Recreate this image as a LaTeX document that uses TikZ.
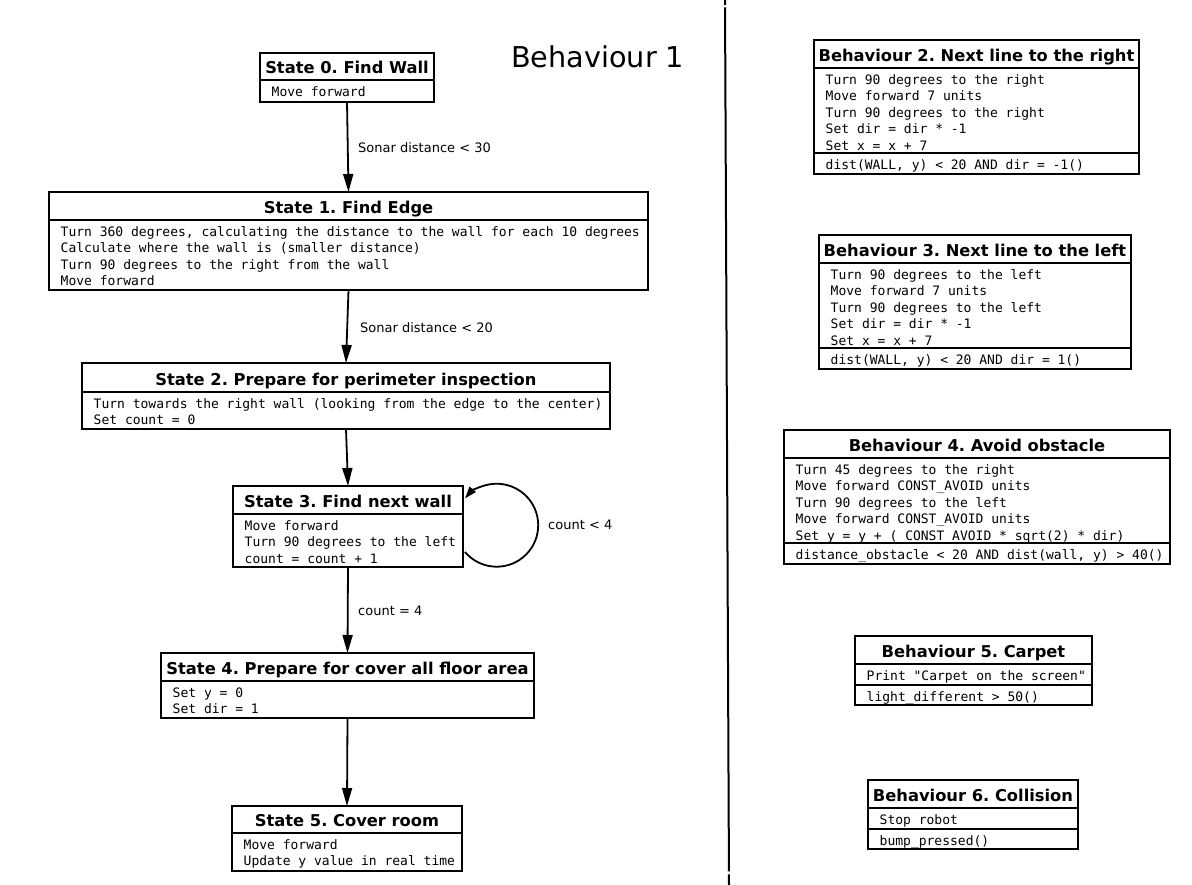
\documentclass[tikz,border=0pt]{standalone}
\usepackage{fontspec}
\setmainfont{DejaVu Sans}
\newfontfamily\monof{DejaVu Sans Mono}
\usetikzlibrary{arrows.meta}
\tikzset{
 boxline/.style={draw=black, line width=1.8pt, inner sep=0pt, outer sep=0pt, fill=white},
 divline/.style={line width=1.8pt},
 ttl/.style={font=\fontsize{16.3}{19}\selectfont\bfseries\frenchspacing, inner sep=0pt, anchor=base},
 bodytxt/.style={font=\monof\fontsize{13}{16.35}\selectfont, inner sep=0pt, anchor=north west, align=left},
 lbl/.style={font=\fontsize{13}{16}\selectfont, inner sep=0pt, anchor=base west},
 arr/.style={line width=1.8pt, -{Triangle[length=18pt,width=10pt]}},
 looparr/.style={line width=1.8pt, -{Triangle[length=12pt,width=8pt]}},
}
\newcommand\umlbox[8]{%
 \node[boxline, anchor=north west, minimum width={#4pt-#2pt}, minimum height={#5pt-#3pt}] (#1) at (#2,#3) {};
 \draw[divline] (#2,#6) -- (#4,#6);
 \node[ttl] (#1-t) at ({(#2+#4)/2},{#6-6.8}) {#7};
 \node[bodytxt] (#1-b) at ({#2+11.5},{#6+5}) {\strut #8};
}
\newcommand\condrow[5]{%
 \draw[divline] (#2,#4) -- (#3,#4);
 \node[bodytxt] (#1) at ({#2+11.5},{#4+5}) {\strut #5};
}
\begin{document}
\begin{tikzpicture}[x=1pt,y=-1pt]
\fill[white] (0,0) rectangle (1192,885);
\useasboundingbox (0,0) rectangle (1192,885);

\node[font=\fontsize{28.7}{34}\selectfont, inner sep=0pt, anchor=base west] (b1) at (511,68) {Behaviour 1};

\draw[line width=2pt, dash pattern=on 5pt off 2.5pt on 864pt off 3pt on 30pt] (725,0) -- (729,885);

\umlbox{s0}{260}{53}{434}{102}{80}{State 0. Find Wall}{Move forward}
\umlbox{s1}{49}{192}{648}{290}{220}{State 1. Find Edge}{Turn 360 degrees, calculating the distance to the wall for each 10 degrees\\Calculate where the wall is (smaller distance)\\Turn 90 degrees to the right from the wall\\Move forward}
\umlbox{s2}{82}{363}{610}{429}{392}{State 2. Prepare for perimeter inspection}{Turn towards the right wall (looking from the edge to the center)\\Set count = 0}
\umlbox{s3}{233}{486}{463}{567}{514}{State 3. Find next wall}{Move forward\\Turn 90 degrees to the left\\count = count + 1}
\umlbox{s4}{161}{653}{534}{718}{681}{State 4. Prepare for cover all floor area}{Set y = 0\\Set dir = 1}
\umlbox{s5}{232}{806}{462}{871}{833}{State 5. Cover room}{Move forward\\Update y value in real time}

\draw[arr] (s0.south) -- (s1.north);
\draw[arr] (s1.south) -- (s2.north);
\draw[arr] (s2.south) -- (s3.north);
\draw[arr] (s3.south) -- (s4.north);
\draw[arr] (s4.south) -- (s5.north);
\draw[looparr] (s3.south east) ++(2,-15) arc[start angle=139.8, end angle=-139.8, radius=41.5];

\node[lbl] (l1) at (358,152.7) {Sonar distance < 30};
\node[lbl] (l2) at (360,332.7) {Sonar distance < 20};
\node[lbl] (l3) at (358,615.7) {count = 4};
\node[lbl] (l4) at (548,529.7) {count < 4};

\umlbox{b2}{814}{40}{1139}{174}{68}{Behaviour 2. Next line to the right}{Turn 90 degrees to the right\\Move forward 7 units\\Turn 90 degrees to the right\\Set dir = dir * -1\\Set x = x + 7}
\condrow{b2-c}{814}{1139}{153}{dist(WALL, y) < 20 AND dir = -1()}
\umlbox{b3}{819}{235}{1131}{369}{263}{Behaviour 3. Next line to the left}{Turn 90 degrees to the left\\Move forward 7 units\\Turn 90 degrees to the left\\Set dir = dir * -1\\Set x = x + 7}
\condrow{b3-c}{819}{1131}{348}{dist(WALL, y) < 20 AND dir = 1()}
\umlbox{b4}{784}{430}{1170}{564}{458}{Behaviour 4. Avoid obstacle}{Turn 45 degrees to the right\\Move forward CONST\_AVOID units\\Turn 90 degrees to the left\\Move forward CONST\_AVOID units\\Set y = y + ( CONST\_AVOID * sqrt(2) * dir)}
\condrow{b4-c}{784}{1170}{543}{distance\_obstacle < 20 AND dist(wall, y) > 40()}
\umlbox{b5}{855}{636}{1092}{705}{664}{Behaviour 5. Carpet}{Print "Carpet on the screen"}
\condrow{b5-c}{855}{1092}{685}{light\_different > 50()}
\umlbox{b6}{868}{780}{1078}{849}{808}{Behaviour 6. Collision}{Stop robot}
\condrow{b6-c}{868}{1078}{829}{bump\_pressed()}
\end{tikzpicture}
\end{document}
